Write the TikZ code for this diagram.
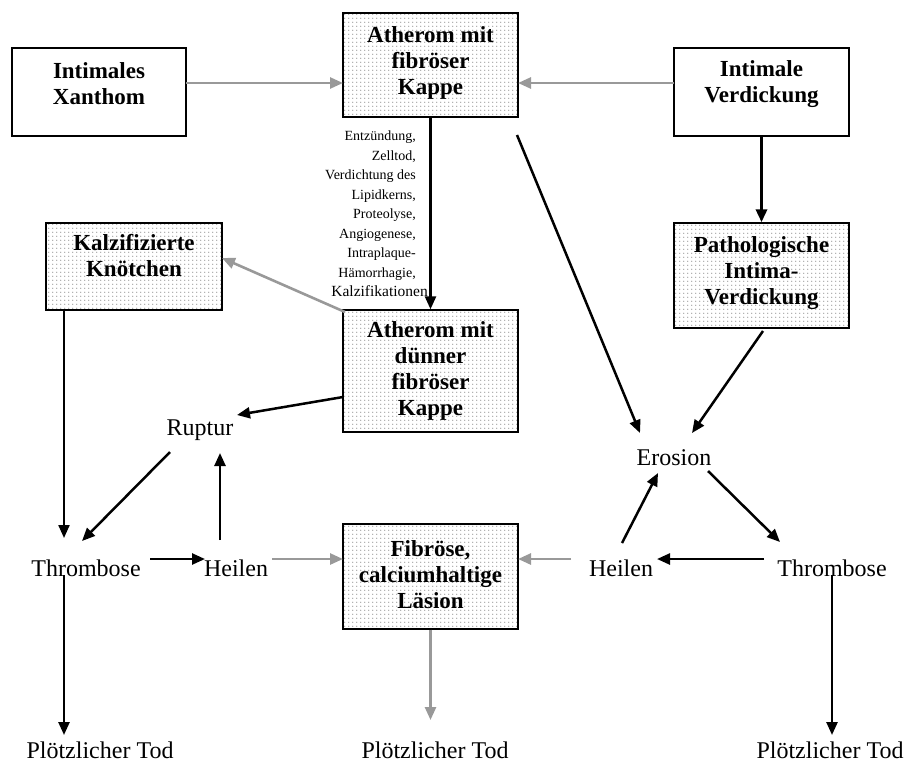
\documentclass[tikz,border=0pt]{standalone}
\usepackage{fontspec}
\setmainfont{Liberation Serif}
\usetikzlibrary{arrows.meta,patterns}
\pgfdeclarepatternformonly{mydots}{\pgfqpoint{0pt}{0pt}}{\pgfqpoint{4.3pt}{4.3pt}}{\pgfqpoint{4.3pt}{4.3pt}}{\pgfpathcircle{\pgfqpoint{2.15pt}{2.15pt}}{0.55pt}\pgfusepath{fill}}
\definecolor{arrgray}{RGB}{153,153,153}
\begin{document}
\begin{tikzpicture}[x=1pt,y=-1pt,
  box/.style={draw=black,line width=1.4pt,inner sep=0pt},
  dotbox/.style={box,pattern=mydots,pattern color=black!85},
  boxtext/.style={font=\fontsize{23}{26}\selectfont\bfseries,align=center,inner sep=0pt},
  lbl/.style={font=\fontsize{24}{28}\selectfont,inner sep=0pt},
  small/.style={font=\fontsize{14}{19.5}\selectfont,align=right,inner sep=0pt},
  blk/.style={draw=black,line width=2.5pt,-{Triangle[length=13pt,width=11pt]}},
  gry/.style={draw=arrgray,line width=2.6pt,-{Triangle[length=13pt,width=11pt]}},
]
\useasboundingbox (0,0) rectangle (909,769);

% boxes
\node[box,minimum width=174pt,minimum height=88pt] (xan) at (99,92) {};
\node[dotbox,minimum width=175pt,minimum height=104pt] (ath1) at (430.5,65) {};
\node[box,minimum width=175pt,minimum height=88pt] (verd) at (761.5,92) {};
\node[dotbox,minimum width=176pt,minimum height=87pt] (kalz) at (134,266.5) {};
\node[dotbox,minimum width=175pt,minimum height=122pt] (ath2) at (430.5,371) {};
\node[dotbox,minimum width=175pt,minimum height=105pt] (patho) at (761.5,275.5) {};
\node[dotbox,minimum width=175pt,minimum height=105pt] (fib) at (430.5,576.5) {};

% box texts
\node[boxtext] (xanT) at (99,84) {Intimales\\Xanthom};
\node[boxtext] (ath1T) at (430.5,63) {Atherom mit\\fibröser\\Kappe};
\node[boxtext] (verdT) at (761.5,84) {Intimale\\Verdickung};
\node[boxtext] (kalzT) at (134,256) {Kalzifizierte\\Knötchen};
\node[boxtext] (ath2T) at (430.5,371) {Atherom mit\\dünner\\fibröser\\Kappe};
\node[boxtext] (pathoT) at (761.5,273) {Pathologische\\Intima-\\Verdickung};
\node[boxtext] (fibT) at (430.5,575) {Fibröse,\\calciumhaltige\\Läsion};

% plain labels
\node[lbl] (ruptur) at (200,430) {Ruptur};
\node[lbl] (erosion) at (674,458) {Erosion};
\node[lbl] (thL) at (86,568) {Thrombose};
\node[lbl] (heL) at (236,568) {Heilen};
\node[lbl] (heR) at (621,568) {Heilen};
\node[lbl] (thR) at (832,568) {Thrombose};
\node[lbl] (todL) at (100,750) {Plötzlicher Tod};
\node[lbl] (todM) at (435,750) {Plötzlicher Tod};
\node[lbl] (todR) at (830,750) {Plötzlicher Tod};

% process text
\node[small,anchor=north east] (proc) at (416,131) {Entzündung,\\Zelltod,\\Verdichtung des\\Lipidkerns,\\Proteolyse,\\Angiogenese,\\Intraplaque-\\Hämorrhagie,\\{\fontsize{15.5}{19.5}\selectfont Kalzifikationen}\hspace*{-12pt}};

% connectors
\draw[gry] ([shift={(87,-9)}]xan.center) -- ([shift={(-87.5,18)}]ath1.center);
\draw[gry] ([shift={(-87.5,-9)}]verd.center) -- ([shift={(87.5,18)}]ath1.center);
\draw[blk] (ath1.south) -- (ath2.north);
\draw[blk,line width=3.4pt] (verd.south) -- (patho.north);
\draw[gry] ([shift={(-85.5,-59)}]ath2.center) -- ([shift={(88,-8.5)}]kalz.center);
\draw[blk] ([shift={(-87.5,26)}]ath2.center) -- ([shift={(37,-15)}]ruptur.center);
\draw[blk,line width=2.2pt] ([shift={(-70,43.5)}]kalz.center) -- ([shift={(-22,-30)}]thL.center);
\draw[blk] ([shift={(-30,22)}]ruptur.center) -- ([shift={(-4,-27)}]thL.center);
\draw[blk] ([shift={(64,-9)}]thL.center) -- ([shift={(-31,-9)}]heL.center);
\draw[blk] ([shift={(-16,-28)}]heL.center) -- ([shift={(20,23)}]ruptur.center);
\draw[gry] ([shift={(36,-9)}]heL.center) -- ([shift={(-87.5,-17.5)}]fib.center);
\draw[gry] ([shift={(-50,-9)}]heR.center) -- ([shift={(87.5,-17.5)}]fib.center);
\draw[gry] (fib.south) -- ([shift={(-4.5,-30)}]todM.center);
\draw[blk] ([shift={(86.5,70)}]ath1.center) -- ([shift={(-34,-25)}]erosion.center);
\draw[blk] ([shift={(1.5,55.5)}]patho.center) -- ([shift={(18,-25)}]erosion.center);
\draw[blk] ([shift={(1,-25)}]heR.center) -- ([shift={(-16,15)}]erosion.center);
\draw[blk] ([shift={(34,13)}]erosion.center) -- ([shift={(-52,-26)}]thR.center);
\draw[blk] ([shift={(-68,-9)}]thR.center) -- ([shift={(36,-9)}]heR.center);
\draw[blk] ([shift={(-22,7)}]thL.center) -- ([shift={(-36,-15)}]todL.center);
\draw[blk] ([shift={(0,7)}]thR.center) -- ([shift={(2,-15)}]todR.center);
\end{tikzpicture}
\end{document}
